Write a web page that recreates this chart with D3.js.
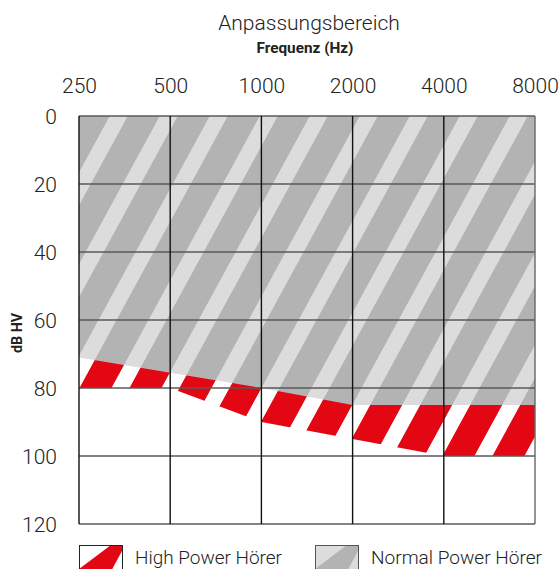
<!DOCTYPE html>
<html><head><meta charset="utf-8">
<script src="https://cdn.jsdelivr.net/npm/d3@7"></script>
<style>
html,body{margin:0;padding:0;background:#fff;}
svg{display:block;font-family:Roboto,"Liberation Sans",sans-serif;}
</style></head>
<body>
<script>
const title = "Anpassungsbereich";
const xTitle = "Frequenz (Hz)";
const yTitle = "dB HV";
const frequencies = [250, 500, 1000, 2000, 4000, 8000];
const dbTicks = [0, 20, 40, 60, 80, 100, 120];
const normalPowerLimit = [71, 75.5, 80, 85, 85, 85];
const highPowerLimit = [80, 80, 90, 95, 100, 100];
const legendLabels = ["High Power Hörer", "Normal Power Hörer"];

const W = 560, H = 569;
const svg = d3.select("body").append("svg").attr("width", W).attr("height", H);

const x = d3.scaleLog().base(2).domain([250, 8000]).range([79, 535]);
const y = d3.scaleLinear().domain([0, 120]).range([116, 524]);

const defs = svg.append("defs");
function stripes(id, dark, light) {
  const p = defs.append("pattern").attr("id", id)
    .attr("patternUnits", "userSpaceOnUse")
    .attr("x", 41).attr("y", 0).attr("width", 50).attr("height", 50)
    .attr("patternTransform", "skewX(-28.6)");
  p.append("rect").attr("width", 50).attr("height", 50).attr("fill", light);
  p.append("rect").attr("width", 32).attr("height", 50).attr("fill", dark);
}
stripes("redStripes", "#e30613", "#ffffff");
stripes("grayStripes", "#b3b3b3", "#dcdcdc");

const hp = frequencies.map((f, i) => ({f, v: highPowerLimit[i]}));
const np = frequencies.map((f, i) => ({f, v: normalPowerLimit[i]}));
const area = d3.area().x(d => x(d.f)).y0(y(0)).y1(d => y(d.v));

svg.append("path").datum(hp).attr("d", area).attr("fill", "url(#redStripes)");
svg.append("path").datum(np).attr("d", area).attr("fill", "url(#grayStripes)");

// grid
svg.append("g").selectAll("line").data(dbTicks).join("line")
  .attr("x1", x(250)).attr("x2", x(8000))
  .attr("y1", d => y(d)).attr("y2", d => y(d))
  .attr("stroke", "#5a5a5a").attr("stroke-width", 1.6);
svg.append("g").selectAll("line").data(frequencies).join("line")
  .attr("x1", d => x(d)).attr("x2", d => x(d))
  .attr("y1", y(0)).attr("y2", y(120))
  .attr("stroke", (d, i) => i === frequencies.length - 1 ? "#666" : "#111")
  .attr("stroke-width", 1.4);

// top axis
const xAxis = svg.append("g").attr("transform", `translate(0,93)`)
  .call(d3.axisTop(x).tickValues(frequencies).tickFormat(d3.format("d")).tickSize(0).tickPadding(0));
xAxis.select(".domain").remove();
xAxis.selectAll("text").attr("font-family", "Roboto").attr("font-size", 21).attr("font-weight", 300)
  .attr("fill", "#222").attr("y", 0).attr("dy", 0);

// left axis
const yAxis = svg.append("g").attr("transform", `translate(57,0)`)
  .call(d3.axisLeft(y).tickValues(dbTicks).tickSize(0).tickPadding(0));
yAxis.select(".domain").remove();
yAxis.selectAll("text").attr("font-family", "Roboto").attr("font-size", 21).attr("font-weight", 300)
  .attr("fill", "#222").attr("x", 0).attr("dy", "0.36em");

// titles
svg.append("text").attr("x", 309).attr("y", 30).attr("text-anchor", "middle")
  .attr("font-size", 21).attr("font-weight", 300).attr("fill", "#222").text(title);
svg.append("text").attr("x", 305).attr("y", 53).attr("text-anchor", "middle")
  .attr("font-size", 14.5).attr("font-weight", "bold").attr("fill", "#222")
  .attr("textLength", 97).attr("lengthAdjust", "spacingAndGlyphs").text(xTitle);
svg.append("text").attr("transform", "translate(22,333) rotate(-90)").attr("text-anchor", "middle")
  .attr("font-size", 14).attr("font-weight", "bold").attr("fill", "#222")
  .attr("textLength", 40).attr("lengthAdjust", "spacingAndGlyphs").text(yTitle);

// legend
const legend = [
  {x: 79, label: legendLabels[0], len: 147, dark: "#e30613", light: "#ffffff", stroke: "#222"},
  {x: 315, label: legendLabels[1], len: 171, dark: "#b3b3b3", light: "#dcdcdc", stroke: "#555"}
];
const lg = svg.append("g").selectAll("g").data(legend).join("g")
  .attr("transform", d => `translate(${d.x},545)`);
lg.append("rect").attr("width", 43).attr("height", 30).attr("fill", d => d.light);
lg.append("polygon").attr("points", "0,24 32,0 43,0 43,6 30,30 0,30")
  .attr("fill", d => d.dark);
lg.append("rect").attr("x", 0.5).attr("y", 0.5).attr("width", 43).attr("height", 30)
  .attr("fill", "none").attr("stroke", d => d.stroke).attr("stroke-width", 1);
lg.append("text").attr("x", 56).attr("y", 19).attr("font-size", 19).attr("font-weight", 300).attr("fill", "#222")
  .attr("textLength", d => d.len).attr("lengthAdjust", "spacingAndGlyphs")
  .text(d => d.label);
</script>
</body></html>
